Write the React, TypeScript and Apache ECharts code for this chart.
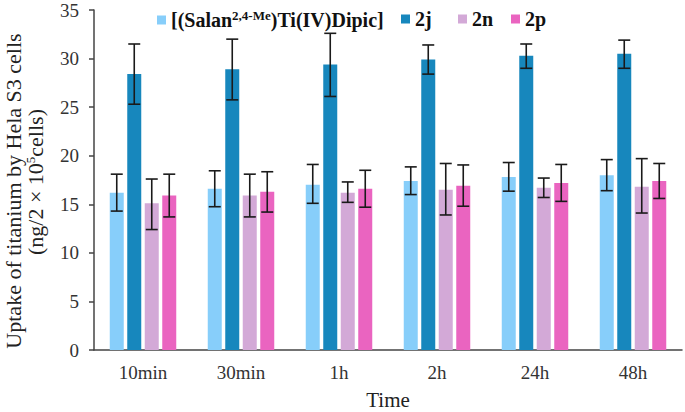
import React, { useEffect, useRef } from "react";
import * as echarts from "echarts";

const categories = ["10min", "30min", "1h", "2h", "24h", "48h"];
const seriesNames = ["[(Salan2,4-Me)Ti(IV)Dipic]", "2j", "2n", "2p"];
const salanValues = [16.2, 16.6, 17.0, 17.4, 17.8, 18.0];
const salanLow = [14.3, 14.75, 15.1, 16.0, 16.35, 16.4];
const salanHigh = [18.1, 18.45, 19.1, 18.85, 19.3, 19.6];
const j2Values = [28.4, 28.9, 29.4, 29.9, 30.3, 30.5];
const j2Low = [25.3, 25.75, 26.1, 28.4, 29.0, 29.0];
const j2High = [31.5, 32.0, 32.6, 31.4, 31.5, 31.9];
const n2Values = [15.1, 15.9, 16.2, 16.5, 16.7, 16.8];
const n2Low = [12.4, 13.7, 15.2, 13.9, 15.7, 14.1];
const n2High = [17.6, 18.1, 17.3, 19.2, 17.7, 19.7];
const p2Values = [15.9, 16.3, 16.6, 16.9, 17.2, 17.4];
const p2Low = [13.7, 14.2, 14.7, 14.8, 15.3, 15.6];
const p2High = [18.1, 18.35, 18.5, 19.05, 19.1, 19.2];
const yTicks = [0, 5, 10, 15, 20, 25, 30, 35];
const yTitleLine1 = "Uptake of titanium by Hela S3 cells";
const xTitle = "Time";

const colors = ["#87CEFA", "#1787BD", "#D3A9D7", "#EA64C0"];
const legendLefts = [152, 396, 453, 506];
const BAR_W = 14;
const BAR_GAP = 3.5;

export default function App() {
  const ref = useRef<HTMLDivElement>(null);
  useEffect(() => {
    if (!ref.current) return;
    const chart = echarts.init(ref.current, null, { renderer: "svg" });
    const values = [salanValues, j2Values, n2Values, p2Values];
    const lows = [salanLow, j2Low, n2Low, p2Low];
    const highs = [salanHigh, j2High, n2High, p2High];
    const font = "Liberation Serif";

    const barSeries = values.map((v, i) => ({
      name: seriesNames[i],
      type: "bar",
      data: v,
      barWidth: BAR_W,
      barGap: "25%",
      itemStyle: { color: colors[i] },
    }));

    const errSeries = values.map((_, i) => ({
      name: "err" + i,
      type: "custom",
      data: categories.map((_, k) => [k, lows[i][k], highs[i][k]]),
      z: 10,
      renderItem: (params: any, api: any) => {
        const x = api.value(0);
        const lo = api.coord([x, api.value(1)]);
        const hi = api.coord([x, api.value(2)]);
        const cx = lo[0] + (i - 1.5) * (BAR_W + BAR_GAP);
        const cap = 6;
        const style = { stroke: "#1a1a1a", lineWidth: 1.6 };
        return {
          type: "group",
          children: [
            { type: "line", shape: { x1: cx, y1: lo[1], x2: cx, y2: hi[1] }, style },
            { type: "line", shape: { x1: cx - cap, y1: lo[1], x2: cx + cap, y2: lo[1] }, style },
            { type: "line", shape: { x1: cx - cap, y1: hi[1], x2: cx + cap, y2: hi[1] }, style },
          ],
        };
      },
    }));

    const legendRich = {
      b: { fontFamily: font, fontWeight: "bold", fontSize: 20, color: "#111" },
      s: {
        fontFamily: font,
        fontWeight: "bold",
        fontSize: 13,
        color: "#111",
        verticalAlign: "top",
        padding: [0, 0, 9, 0],
      },
    };

    const legends = seriesNames.map((name, i) => ({
      data: [name],
      left: legendLefts[i],
      top: 4,
      icon: "rect",
      itemWidth: 9,
      itemHeight: 9,
      selectedMode: false,
      formatter: (n: string) =>
        n === seriesNames[0] ? "{b|[(Salan}{s|2,4-Me}{b|)Ti(IV)Dipic]}" : "{b|" + n + "}",
      textStyle: {
        fontFamily: font,
        fontWeight: "bold",
        fontSize: 20,
        color: "#111",
        rich: legendRich,
      },
    }));

    chart.setOption({
      animation: false,
      grid: { left: 94, right: 3, top: 10, bottom: 62, outerBoundsMode: "none", containLabel: false },
      legend: legends,
      graphic: [
        {
          type: "text",
          x: 35,
          y: 182,
          rotation: Math.PI / 2,
          style: {
            text: "{a|(ng/2 \u00d7 10}{s|5}{a|cells)}",
            font: "22px Liberation Serif",
            fill: "#222",
            align: "center",
            verticalAlign: "middle",
            rich: {
              a: { font: "22px Liberation Serif", fill: "#222" },
              s: {
                font: "13px Liberation Serif",
                fill: "#222",
                verticalAlign: "top",
                padding: [0, 0, 10, 0],
              },
            },
          },
        },
      ],
      xAxis: {
        type: "category",
        data: categories,
        name: xTitle,
        nameLocation: "middle",
        nameGap: 39,
        nameTextStyle: { fontFamily: font, fontSize: 21, color: "#222" },
        axisLine: { lineStyle: { color: "#444", width: 1.5 } },
        axisTick: { length: 5, lineStyle: { color: "#444", width: 1.5 } },
        axisLabel: { fontFamily: font, fontSize: 19, color: "#333", margin: 13 },
      },
      yAxis: {
        type: "value",
        min: 0,
        max: 35,
        interval: 5,
        name: yTitleLine1,
        nameLocation: "middle",
        nameRotate: 90,
        nameGap: 70,
        nameTextStyle: { fontFamily: font, fontSize: 22, color: "#222", padding: [0, 22, 0, 0] },
        splitLine: { show: false },
        axisLine: { show: true, lineStyle: { color: "#444", width: 1.5 } },
        axisTick: { show: true, length: 5, lineStyle: { color: "#444", width: 1.5 } },
        axisLabel: {
          fontFamily: font,
          fontSize: 19,
          lineHeight: 18,
          color: "#333",
          margin: 15,
          formatter: (v: number) => (yTicks.includes(v) ? String(v) : ""),
        },
      },
      series: [...barSeries, ...errSeries],
    });
    return () => chart.dispose();
  }, []);
  return <div ref={ref} style={{ width: 685, height: 412, position: "absolute", left: 0, top: 0 }} />;
}
